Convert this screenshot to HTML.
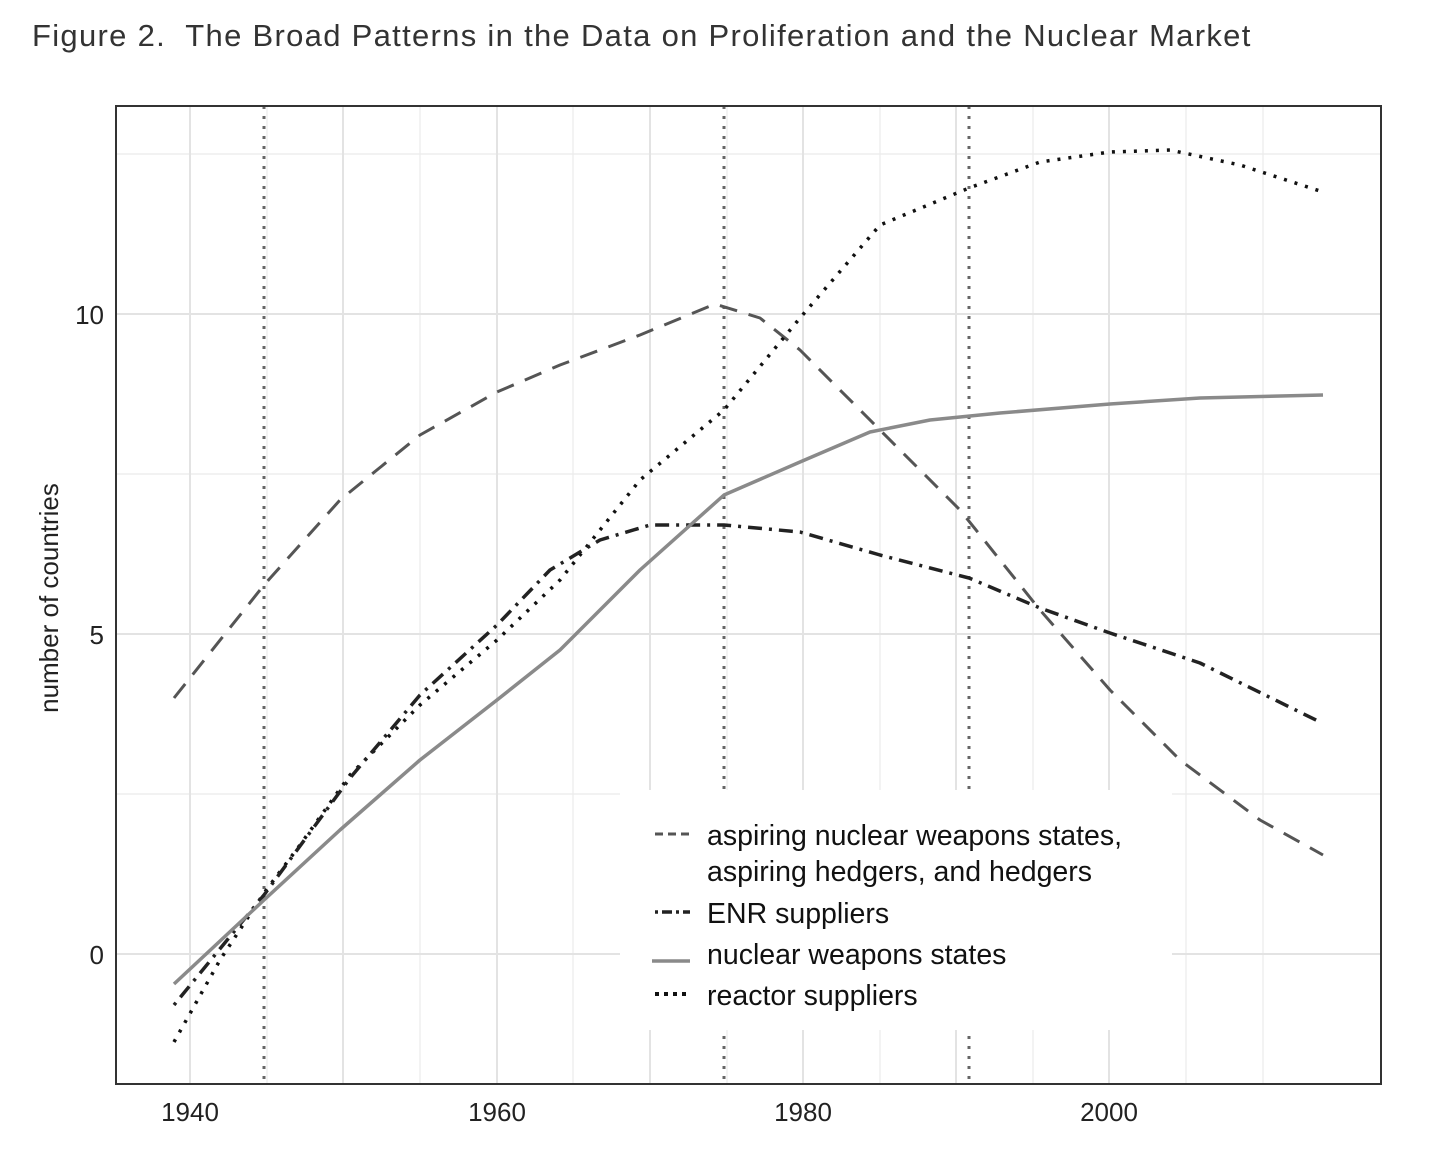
<!DOCTYPE html>
<html><head><meta charset="utf-8"><style>
html,body{margin:0;padding:0;background:#fff;}
svg{display:block;font-family:"Liberation Sans",sans-serif;}
</style></head><body>
<svg width="1446" height="1158" viewBox="0 0 1446 1158" xmlns="http://www.w3.org/2000/svg">
<rect width="1446" height="1158" fill="#fff"/>
<text x="32" y="46" font-size="31" fill="#333" letter-spacing="1.3" xml:space="preserve">Figure 2.  The Broad Patterns in the Data on Proliferation and the Nuclear Market</text>
<rect x="116" y="106" width="1265" height="978" fill="#fff"/>
<g stroke="#ebebeb" stroke-width="1.2">
<line x1="116" x2="1381" y1="154" y2="154"/><line x1="116" x2="1381" y1="474" y2="474"/><line x1="116" x2="1381" y1="794" y2="794"/>
<line x1="267" x2="267" y1="106" y2="1084"/><line x1="420" x2="420" y1="106" y2="1084"/><line x1="573" x2="573" y1="106" y2="1084"/><line x1="727" x2="727" y1="106" y2="1084"/><line x1="880" x2="880" y1="106" y2="1084"/><line x1="1033" x2="1033" y1="106" y2="1084"/><line x1="1186" x2="1186" y1="106" y2="1084"/><line x1="1263" x2="1263" y1="106" y2="1084"/>
</g>
<g stroke="#e3e3e3" stroke-width="2">
<line x1="116" x2="1381" y1="314" y2="314"/><line x1="116" x2="1381" y1="634" y2="634"/><line x1="116" x2="1381" y1="954" y2="954"/>
<line x1="190" x2="190" y1="106" y2="1084"/><line x1="343" x2="343" y1="106" y2="1084"/><line x1="497" x2="497" y1="106" y2="1084"/><line x1="650" x2="650" y1="106" y2="1084"/><line x1="803" x2="803" y1="106" y2="1084"/><line x1="956" x2="956" y1="106" y2="1084"/><line x1="1109" x2="1109" y1="106" y2="1084"/>
</g>
<g stroke="#666" stroke-width="3" stroke-dasharray="3,7">
<line x1="264" x2="264" y1="106" y2="1084"/><line x1="724" x2="724" y1="106" y2="1084"/><line x1="969" x2="969" y1="106" y2="1084"/>
</g>
<g fill="none" stroke-linejoin="round" stroke-linecap="butt">
<polyline stroke="#555" stroke-width="3" stroke-dasharray="18,12" points="174,698 264,585 340,500 420,435 497,392 560,365 640,335 715,304 760,318 800,350 880,430 960,510 1040,610 1110,690 1180,760 1260,820 1323,855"/>
<polyline stroke="#111" stroke-width="3.5" stroke-dasharray="3,8" points="174,1042 220,960 264,893 300,845 350,775 420,705 497,640 560,580 640,480 724,410 800,318 880,225 969,188 1040,162 1110,152 1170,150 1240,165 1323,192"/>
<polyline stroke="#222" stroke-width="3.5" stroke-dasharray="3,7,14,7" points="174,1005 264,895 350,778 420,695 497,625 550,570 600,540 650,525 724,525 800,532 880,555 969,578 1040,608 1110,633 1200,663 1320,722"/>
<polyline stroke="#8a8a8a" stroke-width="3.5" points="174,984 264,900 340,830 420,760 497,700 560,650 640,570 724,495 800,462 870,432 930,420 1000,413 1110,404 1200,398 1323,395"/>
</g>
<rect x="116" y="106" width="1265" height="978" fill="none" stroke="#333" stroke-width="2"/>
<rect x="620" y="790" width="552" height="240" fill="#fff"/>
<g font-size="28.5" fill="#111">
<line x1="655" x2="690" y1="834" y2="834" stroke="#555" stroke-width="3" stroke-dasharray="8,5"/>
<text x="707" y="845">aspiring nuclear weapons states,</text>
<text x="707" y="881">aspiring hedgers, and hedgers</text>
<line x1="655" x2="690" y1="912" y2="912" stroke="#222" stroke-width="3.5" stroke-dasharray="3,4,10,4"/>
<text x="707" y="923">ENR suppliers</text>
<line x1="652" x2="690" y1="961" y2="961" stroke="#8a8a8a" stroke-width="3.5"/>
<text x="707" y="964">nuclear weapons states</text>
<line x1="655" x2="690" y1="994" y2="994" stroke="#111" stroke-width="4" stroke-dasharray="4,5"/>
<text x="707" y="1005">reactor suppliers</text>
</g>
<g font-size="26" fill="#222" text-anchor="end">
<text x="104" y="324">10</text><text x="104" y="644">5</text><text x="104" y="964">0</text>
</g>
<g font-size="26" fill="#222" text-anchor="middle">
<text x="190" y="1121">1940</text><text x="497" y="1121">1960</text><text x="803" y="1121">1980</text><text x="1109" y="1121">2000</text>
</g>
<text transform="translate(58,598) rotate(-90)" font-size="26" fill="#222" text-anchor="middle">number of countries</text>
</svg>
</body></html>
